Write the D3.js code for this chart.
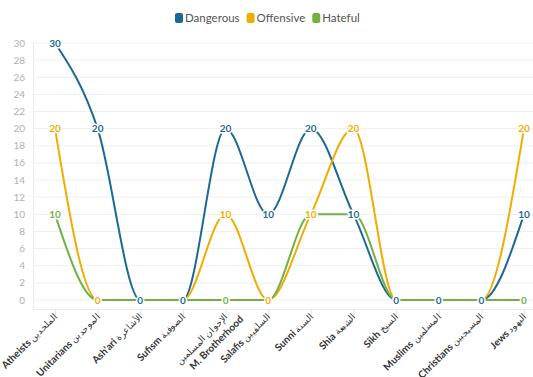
<!DOCTYPE html>
<html>
<head>
<meta charset="utf-8">
<script src="https://cdn.jsdelivr.net/npm/d3@7"></script>
<style>
  body { margin: 0; background: #fff; }
  svg { display: block; font-family: Lato, "Open Sans", sans-serif; }
</style>
</head>
<body>
<div id="chart"></div>
<script>
// categories (english + arabic)
const categories = ["Atheists", "Unitarians", "Ash'ari", "Sufism", "M. Brotherhood", "Salafis",
  "Sunni", "Shia", "Sikh", "Muslims", "Christians", "Jews"];
const arabicNames = ["الملحدين", "الموحدين", "الأشاعرة", "الصوفية", "الإخوان المسلمين", "السلفيين",
  "السنة", "الشيعة", "السيخ", "المسلمين", "المسيحيين", "اليهود"];

const seriesNames = ["Dangerous", "Offensive", "Hateful"];
const dangerous = [30, 20, 0, 0, 20, 10, 20, 10, 0, 0, 0, 10];
const offensive = [20, 0, 0, 0, 10, 0, 10, 20, 0, 0, 0, 20];
const hateful = [10, 0, 0, 0, 0, 0, 10, 10, 0, 0, 0, 0];
const yTicks = [0, 2, 4, 6, 8, 10, 12, 14, 16, 18, 20, 22, 24, 26, 28, 30];

const colours = ["#1d6996", "#f0ad00", "#72b043"];
const seriesValues = [dangerous, offensive, hateful];

const width = 533, height = 377;
const svg = d3.select('#chart').append('svg')
  .attr('width', width)
  .attr('height', height);

const x = d3.scalePoint()
  .domain(categories)
  .range([55, 524]);

const y = d3.scaleLinear()
  .domain([0, 30])
  .range([300, 43]);

// grid lines
svg.append('g')
  .selectAll('line')
  .data(yTicks)
  .enter()
  .append('line')
  .attr('x1', 33).attr('x2', width)
  .attr('y1', d => y(d)).attr('y2', d => y(d))
  .attr('stroke', '#efefef')
  .attr('stroke-width', 1);

// y labels
svg.append('g')
  .selectAll('text')
  .data(yTicks)
  .enter()
  .append('text')
  .attr('x', 25)
  .attr('y', d => y(d))
  .attr('dy', '0.35em')
  .attr('text-anchor', 'end')
  .style('font-size', '10px')
  .style('fill', '#b0b0b0')
  .text(d => d);

// axis frame lines
svg.append('line')
  .attr('x1', 33.5).attr('x2', 33.5)
  .attr('y1', y(30)).attr('y2', 309)
  .attr('stroke', '#ebebeb');
svg.append('line')
  .attr('x1', 33).attr('x2', width)
  .attr('y1', 309.5).attr('y2', 309.5)
  .attr('stroke', '#ebebeb');

// x ticks
svg.append('g')
  .selectAll('line')
  .data(categories)
  .enter()
  .append('line')
  .attr('x1', d => x(d) + 0.5).attr('x2', d => x(d) + 0.5)
  .attr('y1', 309).attr('y2', 315)
  .attr('stroke', '#e3e3e3');

// x labels: english bold + arabic, long ones wrapped on two lines
const xLabels = svg.append('g')
  .selectAll('text')
  .data(categories)
  .enter()
  .append('text')
  .attr('transform', d => `translate(${x(d) + 3}, 317) rotate(-45)`)
  .attr('text-anchor', 'end')
  .style('fill', '#333');

xLabels.each(function (d, i) {
  const t = d3.select(this);
  if (d.length > 10) {
    t.append('tspan')
      .attr('x', 0)
      .style('font-size', '9px')
      .text(arabicNames[i]);
    t.append('tspan')
      .attr('x', 9).attr('dy', 13)
      .style('font-size', '10px')
      .style('font-weight', 'bold')
      .text(d);
  } else {
    t.append('tspan')
      .style('font-size', '10px')
      .style('font-weight', 'bold')
      .text(d + ' ');
    t.append('tspan')
      .style('font-size', '9px')
      .text(arabicNames[i]);
  }
});

// lines
const line = d3.line()
  .x((d, i) => x(categories[i]))
  .y(d => y(d))
  .curve(d3.curveMonotoneX);

svg.append('g')
  .selectAll('path')
  .data(seriesValues)
  .enter()
  .append('path')
  .attr('d', d => line(d))
  .attr('fill', 'none')
  .attr('stroke', (d, i) => colours[i])
  .attr('stroke-width', 2);

// data labels, skip ones that overlap an already placed label
const placed = [];
const labels = [];
seriesValues.forEach((vals, s) => {
  vals.forEach((v, i) => {
    const px = x(categories[i]), py = y(v);
    const hit = placed.some(p => Math.abs(p.x - px) < 12 && Math.abs(p.y - py) < 10);
    if (!hit) {
      placed.push({ x: px, y: py });
      labels.push({ x: px, y: py, v: v, s: s });
    }
  });
});

const labelG = svg.append('g');
labelG.selectAll('text.halo')
  .data(labels)
  .enter()
  .append('text')
  .attr('x', d => d.x)
  .attr('y', d => d.y)
  .attr('dy', '0.35em')
  .attr('text-anchor', 'middle')
  .style('font-size', '10px')
  .style('font-weight', 'bold')
  .style('fill', '#fff')
  .style('stroke', '#fff')
  .style('stroke-width', 3)
  .style('stroke-linejoin', 'round')
  .text(d => d.v);
labelG.selectAll('text.lab')
  .data(labels)
  .enter()
  .append('text')
  .attr('x', d => d.x)
  .attr('y', d => d.y)
  .attr('dy', '0.35em')
  .attr('text-anchor', 'middle')
  .style('font-size', '10px')
  .style('font-weight', 'bold')
  .style('fill', d => colours[d.s])
  .text(d => d.v);

// legend
const legend = svg.append('g');
let lx = 175;
seriesNames.forEach((name, i) => {
  legend.append('rect')
    .attr('x', lx).attr('y', 13)
    .attr('width', 8).attr('height', 10)
    .attr('rx', 2).attr('ry', 2)
    .attr('fill', colours[i]);
  const t = legend.append('text')
    .attr('x', lx + 10)
    .attr('y', 22)
    .style('font-size', '11.5px')
    .style('fill', '#555')
    .text(name);
  lx += 10 + t.node().getComputedTextLength() + 7;
});
</script>
</body>
</html>
